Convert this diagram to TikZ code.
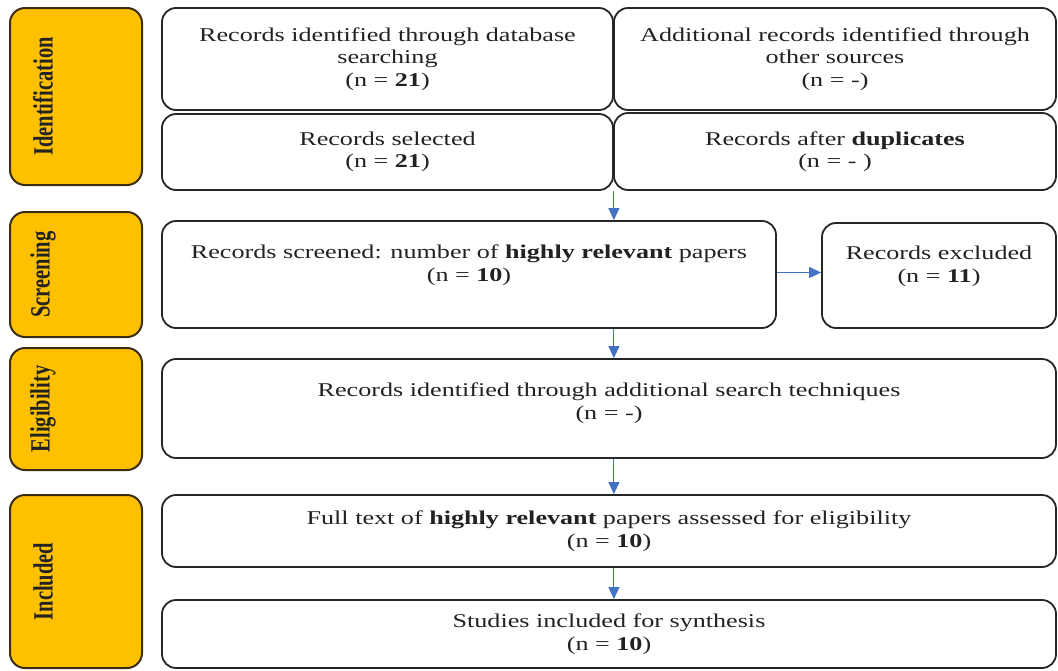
\documentclass[tikz,border=0pt]{standalone}
\usepackage{fontspec}
\setmainfont{Liberation Serif}[FakeStretch=1.34]
\newfontfamily\phasefont{Liberation Serif}
\usepackage{graphicx}
\usetikzlibrary{arrows.meta}
\definecolor{PhaseGold}{HTML}{FFC000}
\definecolor{PhaseEdge}{HTML}{3B2E10}
\definecolor{ArrowBlue}{HTML}{4472C4}
\definecolor{TextGrey}{HTML}{222222}

\begin{document}
\begin{tikzpicture}[x=1pt, y=-1pt, >=Stealth,
  phase/.style={draw=PhaseEdge, line width=2pt, fill=PhaseGold, rounded corners=15pt, inner sep=0pt},
  phaselbl/.style={rotate=90, font=\phasefont\fontsize{20.5}{24}\selectfont\bfseries, text=TextGrey, inner sep=0pt},
  rec/.style={draw=black!85, line width=1.8pt, rounded corners=14pt, align=center,
    font=\fontsize{19.5}{22.5}\selectfont, text=TextGrey, inner sep=0pt},
  flow/.style={-{Triangle[length=12pt,width=11pt]}, ArrowBlue, line width=1.1pt}]
  \useasboundingbox (0,0) rectangle (1058,670);

  % phases
  \node[phase, minimum width=132pt, minimum height=177pt] (ident) at (76,96.5) {};
  \node[phase, minimum width=132pt, minimum height=125pt] (screen) at (76,274.5) {};
  \node[phase, minimum width=132pt, minimum height=122pt] (elig) at (76,409) {};
  \node[phase, minimum width=132pt, minimum height=173pt] (incl) at (76,581.5) {};
  \node[phaselbl] (identlbl) at ([xshift=-33pt]ident.center) {\scalebox{1}[1.36]{Identification}};
  \node[phaselbl] (screenlbl) at ([xshift=-33pt]screen.center) {\scalebox{1}[1.36]{Screening}};
  \node[phaselbl] (eliglbl) at ([xshift=-33pt]elig.center) {\scalebox{1}[1.36]{Eligibility}};
  \node[phaselbl] (incllbl) at ([xshift=-33pt]incl.center) {\scalebox{1}[1.36]{Included}};

  % records
  \node[rec, minimum width=451pt, minimum height=102pt] (dbs) at (387.5,59)
    {Records identified through database\\searching\\(n = \textbf{21})};
  \node[rec, minimum width=442pt, minimum height=102pt] (oth) at (835,59)
    {Additional records identified through\\other sources\\(n = -)};
  \node[rec, minimum width=451pt, minimum height=76pt] (sel) at (387.5,152)
    {Records selected\\(n = \textbf{21})};
  \node[rec, minimum width=442pt, minimum height=77pt] (dup) at (835,151.5)
    {Records after \textbf{duplicates}\\(n = - )};
  \node[rec, minimum width=614pt, minimum height=107pt] (scr) at (469,274.5)
    {Records screened: number of \textbf{highly relevant} papers\\(n = \textbf{10})\\\mbox{}};
  \node[rec, minimum width=234pt, minimum height=105pt] (exc) at (939,275.5)
    {Records excluded\\(n = \textbf{11})\\\mbox{}};
  \node[rec, minimum width=894pt, minimum height=99pt] (elg) at (609,408.5)
    {Records identified through additional search techniques\\(n = -)\\[-8pt]\mbox{}};
  \node[rec, minimum width=894pt, minimum height=72pt] (ful) at (609,531)
    {Full text of \textbf{highly relevant} papers assessed for eligibility\\(n = \textbf{10})};
  \node[rec, minimum width=894pt, minimum height=68pt] (stu) at (609,634)
    {Studies included for synthesis\\(n = \textbf{10})};

  % arrows
  \coordinate (spine) at (sel.south east);
  \draw[flow] (spine) -- (spine |- scr.north);
  \draw[flow] ([yshift=2pt]scr.east) -- ([yshift=2pt]scr.east -| exc.west);
  \draw[flow] (scr.south -| spine) -- (elg.north -| spine);
  \draw[flow] (elg.south -| spine) -- (ful.north -| spine);
  \draw[flow] (ful.south -| spine) -- (stu.north -| spine);
\end{tikzpicture}
\end{document}
